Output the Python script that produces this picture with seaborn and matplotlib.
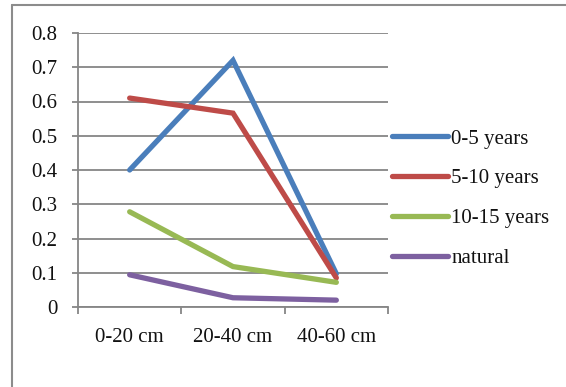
import matplotlib
matplotlib.use("Agg")
import matplotlib.pyplot as plt
import matplotlib.lines as mlines
import seaborn as sns
import pandas as pd

depths = ["0-20 cm", "20-40 cm", "40-60 cm"]
series_names = ["0-5 years", "5-10 years", "10-15 years", "natural"]
vals_0_5 = [0.40, 0.72, 0.097]
vals_5_10 = [0.61, 0.566, 0.085]
vals_10_15 = [0.278, 0.118, 0.072]
vals_natural = [0.094, 0.027, 0.020]
y_ticks = [0, 0.1, 0.2, 0.3, 0.4, 0.5, 0.6, 0.7, 0.8]
y_tick_labels = ["0", "0.1", "0.2", "0.3", "0.4", "0.5", "0.6", "0.7", "0.8"]
colors = ["#4A7EBB", "#BE4B48", "#98B954", "#7D60A0"]

rows = []
for name, vals in zip(series_names, [vals_0_5, vals_5_10, vals_10_15, vals_natural]):
    for i, (d, v) in enumerate(zip(depths, vals)):
        rows.append({"pos": i, "depth": d, "value": v, "series": name})
df = pd.DataFrame(rows)

sns.set_theme(style="white")
plt.rcParams["font.family"] = ["Liberation Serif", "DejaVu Serif"]

FS = 15
fig = plt.figure(figsize=(5.66, 3.87), dpi=100)
ax = fig.add_axes([78 / 566, 1 - 307 / 387, (388 - 78) / 566, (307 - 33) / 387])

sns.lineplot(data=df, x="pos", y="value", hue="series", hue_order=series_names,
             palette=colors, linewidth=3.8, ax=ax, legend=True,
             solid_capstyle="round", solid_joinstyle="miter")

grid_color = "#868686"
ax.set_xlim(-0.5, 2.5)
ax.set_ylim(0, 0.8)
ax.set_yticks(y_ticks)
ax.set_yticklabels(y_tick_labels)
ax.set_xticks([0, 1, 2])
ax.set_xticklabels(depths)
ax.set_xticks([-0.5, 0.5, 1.5, 2.5], minor=True)
ax.set_xlabel("")
ax.set_ylabel("")
ax.yaxis.grid(True, color=grid_color, linewidth=1.3)
ax.set_axisbelow(True)
for side in ["top", "right"]:
    ax.spines[side].set_visible(False)
for side in ["left", "bottom"]:
    ax.spines[side].set_color(grid_color)
    ax.spines[side].set_linewidth(1.3)

ax.tick_params(axis="y", which="major", direction="out", length=4.5, width=1.3,
               color=grid_color, pad=10.5, labelsize=FS, labelcolor="#111111", left=True)
ax.tick_params(axis="x", which="major", length=0, pad=15, labelsize=FS, labelcolor="#111111")
ax.tick_params(axis="x", which="minor", direction="out", length=5, width=1.3,
               color=grid_color, bottom=True)

handles, labels = ax.get_legend_handles_labels()
for h in handles:
    h.set_linewidth(3.8)
    h.set_solid_capstyle("round")
leg = ax.legend(handles, labels, loc="upper left", bbox_to_anchor=(392 / 566, 1 - 129 / 387),
                bbox_transform=fig.transFigure, frameon=False, fontsize=FS,
                handlelength=2.7, handletextpad=0.15, labelspacing=0.97, borderpad=0,
                borderaxespad=0)
for t in leg.get_texts():
    t.set_color("#111111")

# outer chart border (top and left edges)
fig.add_artist(mlines.Line2D([12 / 566, 1], [1 - 5 / 387, 1 - 5 / 387], color="#8c8c8c",
                             linewidth=1.5, transform=fig.transFigure))
fig.add_artist(mlines.Line2D([12 / 566, 12 / 566], [0, 1 - 5 / 387], color="#8c8c8c",
                             linewidth=1.5, transform=fig.transFigure))

fig.savefig("out.png", dpi=100)
